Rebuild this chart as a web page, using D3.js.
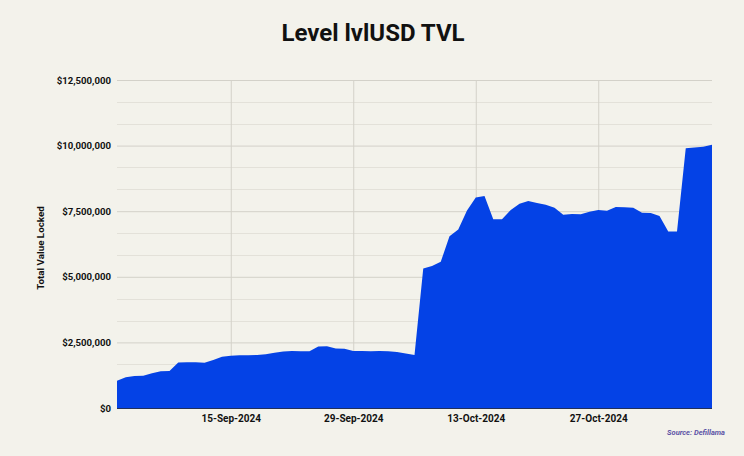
<!DOCTYPE html>
<html>
<head>
<meta charset="utf-8">
<script src="https://cdn.jsdelivr.net/npm/d3@7"></script>
<style>
  html, body { margin: 0; padding: 0; background: #f3f2eb; }
  svg { display: block; font-family: Roboto, "Noto Sans", sans-serif; }
</style>
</head>
<body>
<svg id="chart" width="744" height="456"></svg>
<script>
const startDate = "2024-09-02";
const tvlMillions = [
  1.04, 1.17, 1.22, 1.23, 1.32, 1.40, 1.41, 1.73, 1.74, 1.74,
  1.72, 1.83, 1.95, 1.99, 2.01, 2.01, 2.02, 2.05, 2.11, 2.15,
  2.17, 2.16, 2.16, 2.34, 2.35, 2.27, 2.26, 2.17, 2.17, 2.16,
  2.17, 2.16, 2.13, 2.08, 2.02, 5.32, 5.41, 5.57, 6.55, 6.80,
  7.53, 8.02, 8.08, 7.19, 7.19, 7.55, 7.78, 7.89, 7.81, 7.75,
  7.63, 7.36, 7.39, 7.38, 7.48, 7.55, 7.52, 7.66, 7.65, 7.63,
  7.44, 7.43, 7.32, 6.73, 6.73, 9.90, 9.93, 9.96, 10.03
];
const yTicks = [0, 2500000, 5000000, 7500000, 10000000, 12500000];
const xTickDates = ["2024-09-15", "2024-09-29", "2024-10-13", "2024-10-27"];
const titleText = "Level lvlUSD TVL";
const yAxisTitle = "Total Value Locked";
const sourceText = "Source: Defillama";

const parse = d3.utcParse("%Y-%m-%d");
const t0 = parse(startDate);
const data = tvlMillions.map((v, i) => ({ date: d3.utcDay.offset(t0, i), value: v * 1e6 }));

const svg = d3.select("#chart");
const W = 744, H = 456;
const m = { left: 117, right: 32, top: 80, bottom: 48 };

const x = d3.scaleUtc()
  .domain([data[0].date, data[data.length - 1].date])
  .range([m.left, W - m.right]);
const y = d3.scaleLinear().domain([0, 12500000]).range([H - m.bottom, m.top]);

svg.append("rect").attr("width", W).attr("height", H).attr("fill", "#f3f2eb");

// minor horizontal grid
const minor = d3.range(0, 12500001, 2500000 / 3).filter(v => !yTicks.some(t => Math.abs(t - v) < 1));
svg.append("g").selectAll("line").data(minor).join("line")
  .attr("x1", m.left).attr("x2", W - m.right)
  .attr("y1", d => Math.round(y(d)) + 0.5).attr("y2", d => Math.round(y(d)) + 0.5)
  .attr("stroke", "#e3e1d9").attr("stroke-width", 1);

// major horizontal grid via axis
const yAxis = d3.axisLeft(y).tickValues(yTicks)
  .tickSize(-(W - m.left - m.right)).tickPadding(6)
  .tickFormat(d => "$" + d3.format(",")(d));
const gy = svg.append("g").attr("transform", `translate(${m.left},0)`).call(yAxis);
gy.select(".domain").remove();
gy.selectAll(".tick line").attr("stroke", "#d3d1c9");
gy.selectAll(".tick text").attr("fill", "#111").attr("font-size", 9.6).attr("font-weight", 700)
  .attr("font-family", "Roboto, sans-serif");

// vertical grid + x labels
const xAxis = d3.axisBottom(x).tickValues(xTickDates.map(parse))
  .tickSize(-(H - m.top - m.bottom)).tickPadding(7)
  .tickFormat(d3.utcFormat("%d-%b-%Y"));
const gx = svg.append("g").attr("transform", `translate(0,${H - m.bottom})`).call(xAxis);
gx.select(".domain").remove();
gx.selectAll(".tick line").attr("stroke", "#d3d1c9");
gx.selectAll(".tick text").attr("fill", "#111").attr("font-size", 10).attr("font-weight", 700)
  .attr("font-family", "Roboto, sans-serif");

// area
const area = d3.area().x(d => x(d.date)).y0(y(0)).y1(d => y(d.value));
svg.append("path").datum(data).attr("d", area).attr("fill", "#0442e6");

// baseline
svg.append("line").attr("x1", m.left).attr("x2", W - m.right)
  .attr("y1", y(0) + 0.5).attr("y2", y(0) + 0.5)
  .attr("stroke", "#22305a").attr("stroke-width", 1);

// title
svg.append("text").attr("x", 373).attr("y", 41).attr("text-anchor", "middle")
  .attr("font-size", 24).attr("font-weight", 700).attr("fill", "#111")
  .attr("font-family", "Roboto, sans-serif").text(titleText);

// y axis title
svg.append("text").attr("transform", `translate(44,${(m.top + H - m.bottom) / 2 + 4}) rotate(-90)`)
  .attr("text-anchor", "middle").attr("font-size", 9.8).attr("font-weight", 700).attr("fill", "#111")
  .attr("font-family", "Roboto, sans-serif").text(yAxisTitle);

// source
svg.append("text").attr("x", 725).attr("y", 435).attr("text-anchor", "end")
  .attr("font-size", 7.5).attr("font-weight", 700).attr("font-style", "italic").attr("fill", "#5d54a6")
  .attr("font-family", "Roboto, sans-serif").text(sourceText);
</script>
</body>
</html>
